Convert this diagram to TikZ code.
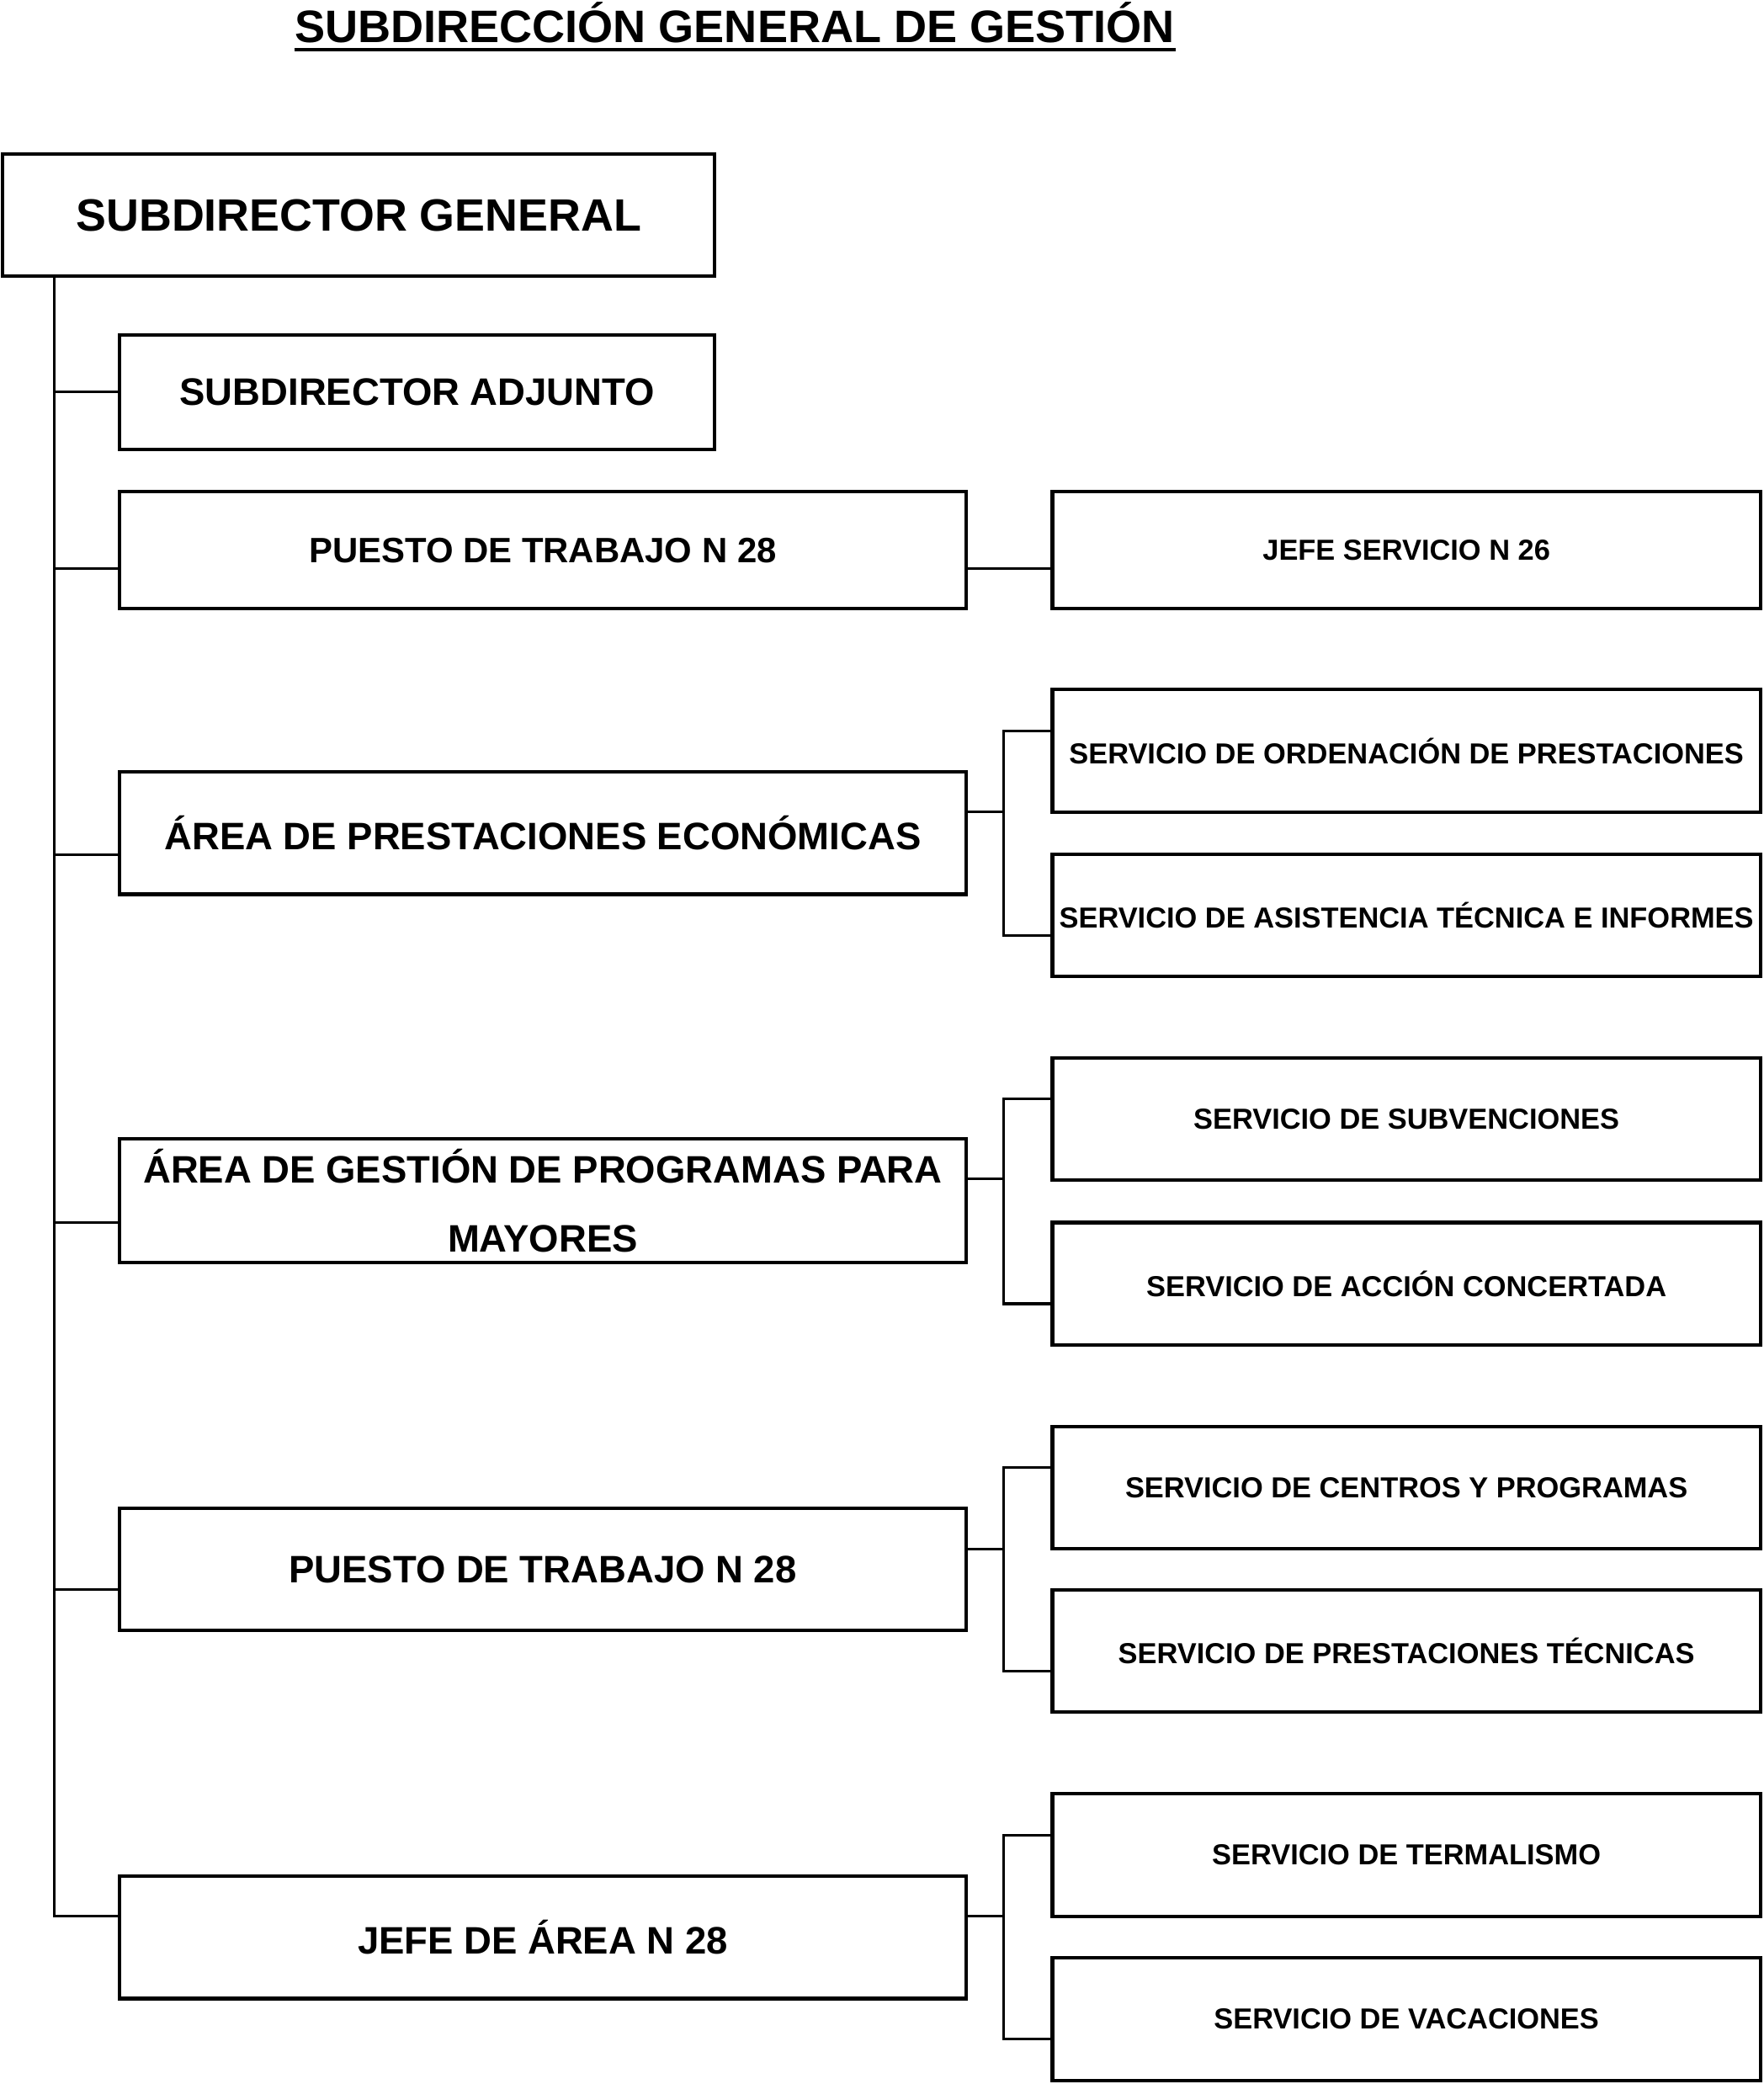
\documentclass[tikz,border=0pt]{standalone}
\usepackage{fontspec}
\setmainfont{Liberation Sans}
\usetikzlibrary{calc}
\tikzset{
    box/.style={draw, line width=1.5pt, inner sep=0pt, align=center},
    head/.style={box, minimum width=12.74cm, minimum height=1.84cm, font=\bfseries\fontsize{16.4}{29.6}\selectfont},
    serv/.style={box, minimum width=10.66cm, minimum height=1.84cm, font=\bfseries\fontsize{12.4}{15}\selectfont},
    link/.style={line width=1.1pt},
}
\begin{document}
\begin{tikzpicture}[x=0.02cm, y=-0.02cm]
    \useasboundingbox (0,0) rectangle (1327,1568.3);
    % Title
    \node[inner sep=0pt, anchor=base, font=\bfseries\fontsize{19.5}{23}\selectfont] (title) at (553,32) {SUBDIRECCIÓN GENERAL DE GESTIÓN};
    \draw[line width=1.5pt] ([yshift=-3pt]title.base west) -- ([yshift=-3pt]title.base east);

    % Left column
    \node[box, minimum width=10.72cm, minimum height=1.84cm, font=\bfseries\fontsize{19.4}{23}\selectfont] (sg) at (270,162) {SUBDIRECTOR GENERAL};
    \node[head, minimum width=8.96cm, minimum height=1.72cm] (adj) at (314,295) {SUBDIRECTOR ADJUNTO};
    \node[head, minimum height=1.76cm, font=\bfseries\fontsize{15.1}{18}\selectfont] (pt1) at (408.5,414) {PUESTO DE TRABAJO N 28};
    \node[head] (ape) at (408.5,627) {ÁREA DE PRESTACIONES ECONÓMICAS};
    \node[head, minimum height=1.86cm] (agp) at (408.5,903.5) {ÁREA DE GESTIÓN DE PROGRAMAS PARA\\MAYORES};
    \node[head] (pt2) at (408.5,1181) {PUESTO DE TRABAJO N 28};
    \node[head] (ja) at (408.5,1458) {JEFE DE ÁREA N 28};

    % Services
    \node[serv, minimum height=1.76cm] (js) at (1058.5,414) {JEFE SERVICIO N 26};
    \node[serv] (ord) at (1058.5,565) {SERVICIO DE ORDENACIÓN DE PRESTACIONES};
    \node[serv] (asi) at (1058.5,689) {SERVICIO DE ASISTENCIA TÉCNICA E INFORMES};
    \node[serv] (sub) at (1058.5,842) {SERVICIO DE SUBVENCIONES};
    \node[serv] (acc) at (1058.5,966) {SERVICIO DE ACCIÓN CONCERTADA};
    \node[serv] (cen) at (1058.5,1119.5) {SERVICIO DE CENTROS Y PROGRAMAS};
    \node[serv] (prt) at (1058.5,1242.5) {SERVICIO DE PRESTACIONES TÉCNICAS};
    \node[serv] (ter) at (1058.5,1396) {SERVICIO DE TERMALISMO};
    \node[serv] (vac) at (1058.5,1519.5) {SERVICIO DE VACACIONES};

    % Trunk
    \coordinate (top) at ($(sg.south west)+(40,0)$);
    \coordinate (bot) at ($(ja.north west)!0.33!(ja.south west)$);
    \draw[link] (top) |- (bot);
    \foreach \b/\f in {adj/0.5, pt1/0.65, ape/0.67, agp/0.67, pt2/0.66}
        \draw[link] ($(\b.north west)!\f!(\b.south west)$) coordinate (a) -- (a -| top);

    % Brackets
    \draw[link] ($(pt1.north east)!0.65!(pt1.south east)$) -- ($(js.north west)!0.65!(js.south west)$);
    \foreach \b/\g/\s/\t in {ape/0.33/ord/asi, agp/0.33/sub/acc, pt2/0.34/cen/prt, ja/0.33/ter/vac}{
        \coordinate (p) at ($(\b.north east)!\g!(\b.south east)$);
        \coordinate (m) at ($(p)+(27,0)$);
        \coordinate (u) at ($(\s.north west)!0.34!(\s.south west)$);
        \coordinate (v) at ($(\t.north west)!0.66!(\t.south west)$);
        \draw[link] (p) -- (m);
        \draw[link] (u) -| (m |- v) -- (v);
    }
\end{tikzpicture}
\end{document}
